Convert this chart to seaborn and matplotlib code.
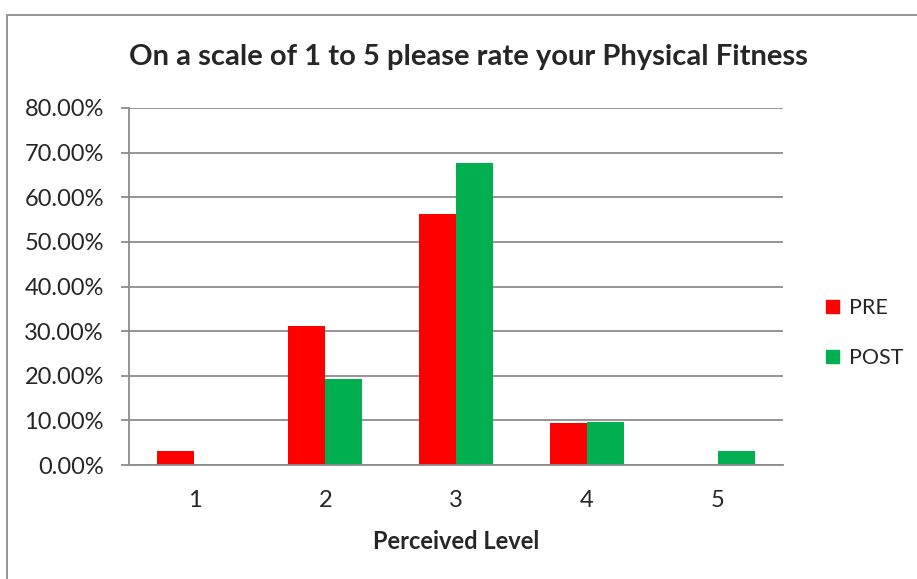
import pandas as pd
import numpy as np
import matplotlib.pyplot as plt
import seaborn as sns
from matplotlib.patches import Rectangle
from matplotlib.ticker import PercentFormatter, FixedLocator

levels = ["1", "2", "3", "4", "5"]
pre = [3.125, 31.25, 56.25, 9.375, 0.0]
post = [0.0, 19.35, 67.74, 9.68, 3.23]
groups = ["PRE", "POST"]
colors = ["#FF0000", "#00B050"]

df = pd.DataFrame({
    "level": levels * 2,
    "value": pre + post,
    "group": ["PRE"] * 5 + ["POST"] * 5,
})

sns.set_style("white")
plt.rcParams["font.family"] = ["Lato", "DejaVu Sans"]

fig = plt.figure(figsize=(9.17, 5.79), dpi=100)
ax = fig.add_axes([129 / 917, 1 - 465 / 579, (783 - 129) / 917, (465 - 108) / 579])

sns.barplot(data=df, x="level", y="value", hue="group", hue_order=groups,
            palette=colors, width=0.566, saturation=1, ax=ax, legend=True,
            linewidth=0, edgecolor="none")

ax.set_ylim(0, 80)
ax.set_xlim(-0.5, 4.5)
ax.set_yticks(np.arange(0, 81, 10))
ax.yaxis.set_major_formatter(PercentFormatter(decimals=2))
ax.grid(axis="y", color="#8c8c8c", linewidth=1.3)
ax.set_axisbelow(True)

for s in ["top", "right"]:
    ax.spines[s].set_visible(False)
for s in ["left", "bottom"]:
    ax.spines[s].set_color("#8c8c8c")
    ax.spines[s].set_linewidth(1.3)

fs = 17
ax.xaxis.set_minor_locator(FixedLocator(np.arange(-0.5, 5, 1)))
ax.tick_params(axis="x", which="major", length=0, pad=18, labelsize=fs)
ax.tick_params(axis="x", which="minor", length=8, width=1.3, color="#8c8c8c", direction="out")
ax.tick_params(axis="y", length=6, width=1.3, color="#8c8c8c", direction="out", left=True, labelsize=fs, pad=12)

ax.set_xlabel("Perceived Level", fontsize=fs, fontweight="bold", labelpad=14)
ax.set_ylabel("")
fig.text(468 / 917, 1 - 57 / 579, "On a scale of 1 to 5 please rate your Physical Fitness",
         ha="center", va="center", fontsize=21, fontweight="bold")

ax.get_legend().remove()
handles = [Rectangle((0, 0), 1, 1, color=c) for c in colors]
fig.legend(handles, groups, loc="center left", bbox_to_anchor=(826 / 917, 1 - 333 / 579),
           frameon=False, fontsize=15.5, handlelength=0.6, handleheight=0.6,
           handletextpad=0.45, labelspacing=1.4, borderpad=0, borderaxespad=0)

fig.patches.append(Rectangle((7 / 917, -0.1), 1.2, 1 - 15 / 579 + 0.1, transform=fig.transFigure,
                             fill=False, edgecolor="#8c8c8c", linewidth=1.3))

fig.savefig("out.png", dpi=100)
